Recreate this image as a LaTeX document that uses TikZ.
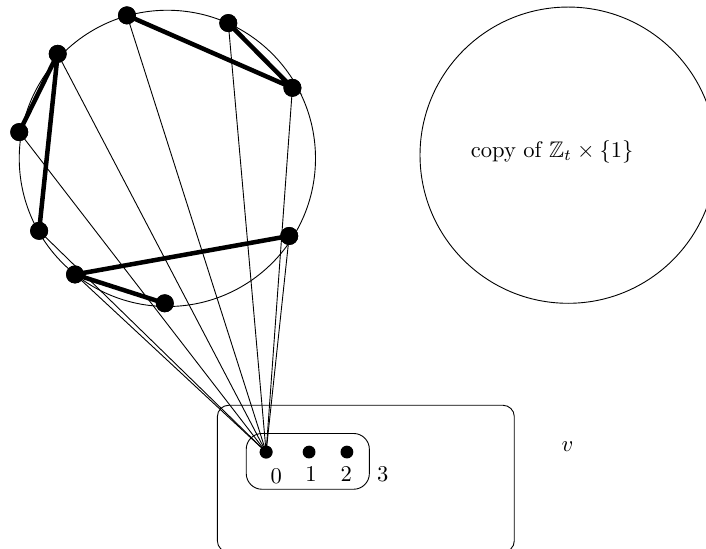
\documentclass[tikz,border=0pt]{standalone}
\usepackage{amsmath,amssymb}
\usetikzlibrary{positioning}

\begin{document}
\begin{tikzpicture}[
    vtx/.style={circle, fill=black, inner sep=0pt, minimum size=0.28cm},
    pt/.style={circle, fill=black, inner sep=0pt, minimum size=0.2cm},
    heavy/.style={line width=2pt},
    fan/.style={thin},
    lbl/.style={inner sep=1pt}
  ]
    \clip (0,0) rectangle (11.01,8.55);

    % Cycle Z_t x {0}
    \node[draw, circle, minimum size=4.62cm, inner sep=0pt] (cyc) at (2.61,6.08) {};
    \node[vtx] (a) at (1.98,8.31) {};
    \node[vtx] (b) at (3.56,8.19) {};
    \node[vtx] (c) at (4.56,7.18) {};
    \node[vtx] (d) at (0.90,7.71) {};
    \node[vtx] (e) at (0.30,6.49) {};
    \node[vtx] (f) at (0.61,4.95) {};
    \node[vtx] (g) at (4.51,4.87) {};
    \node[vtx] (h) at (1.17,4.27) {};
    \node[vtx] (i) at (2.57,3.82) {};

    % Second copy
    \node[draw, circle, minimum size=4.62cm, inner sep=0pt] (cpy) at (8.86,6.13) {};
    \node (cpylbl) at (8.61,6.18) {copy of $\mathbb{Z}_t \times \{1\}$};

    % Vertex v and its parts
    \draw[rounded corners=5pt] (3.39,-0.06) rectangle (8.02,2.23);
    \node (v) at (8.85,1.59) {$v$};
    \draw[rounded corners=7pt] (3.84,0.92) rectangle (5.76,1.79);
    \node[pt] (z0) at (4.15,1.50) {};
    \node[pt] (z1) at (4.82,1.50) {};
    \node[pt] (z2) at (5.41,1.50) {};
    \node[lbl] (n0) at (4.31,1.12) {$0$};
    \node[lbl] (n1) at (4.85,1.15) {$1$};
    \node[lbl] (n2) at (5.40,1.15) {$2$};
    \node[lbl] (n3) at (5.97,1.15) {$3$};

    % Edges from 0 into the cycle
    \foreach \p in {a,b,c,d,e,f,g,h}
      \draw[fan] (z0.center) -- (\p.center);

    % Redraw the dots
    \foreach \p in {a,b,c,d,e,f,g,h,i}
      \fill (\p) circle (0.14cm);
    \fill (z0) circle (0.1cm);

    % Thick edges
    \draw[heavy] (a.center) -- (c.center) -- (b.center);
    \draw[heavy] (d.center) -- (e.center);
    \draw[heavy] (d.center) -- (f.center);
    \draw[heavy] (g.center) -- (h.center);
    \draw[heavy] (h.center) -- (i.center);
  \end{tikzpicture}
\end{document}
